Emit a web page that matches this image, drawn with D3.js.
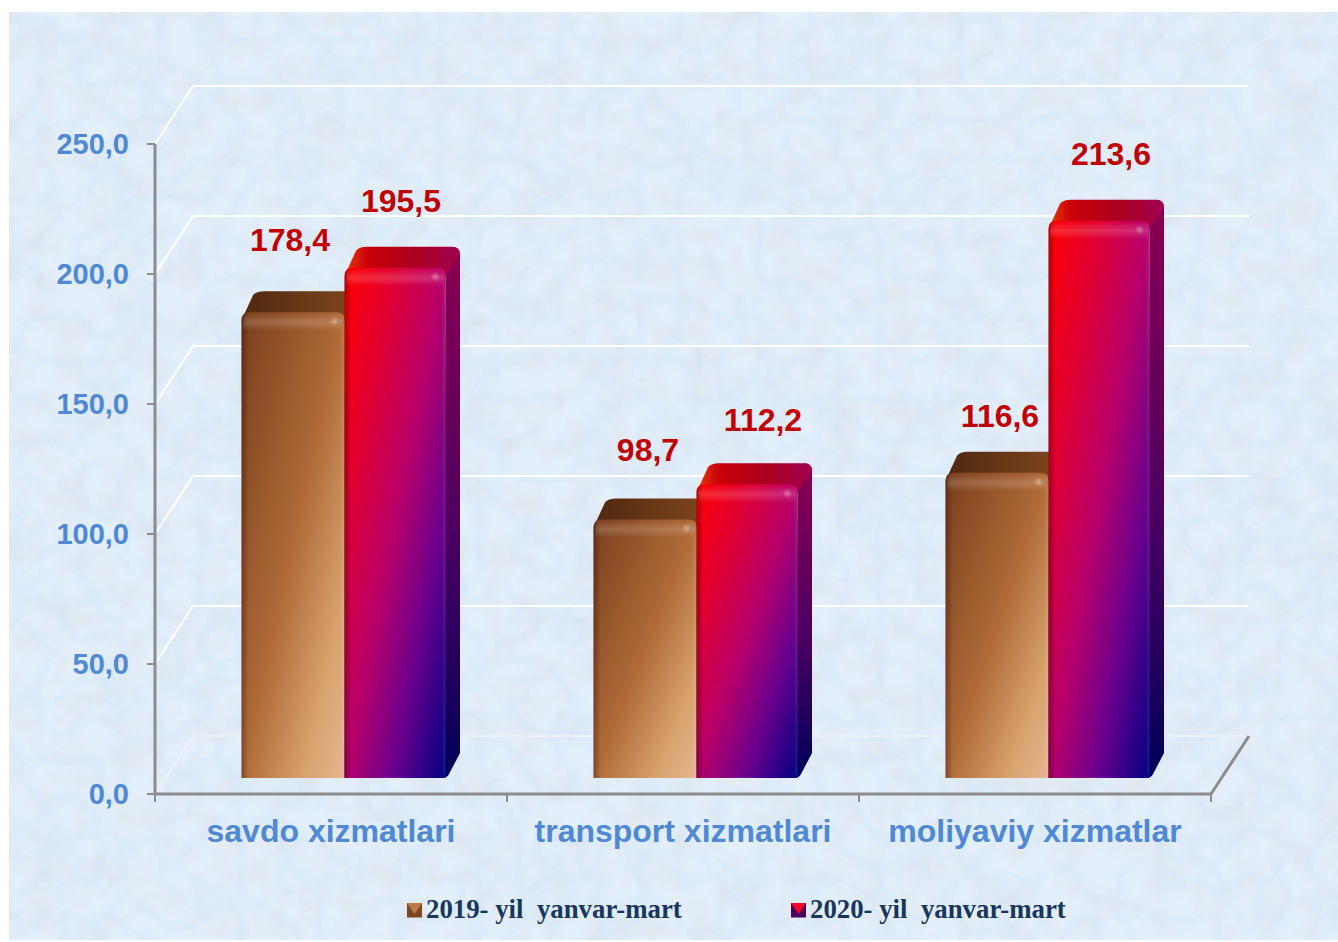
<!DOCTYPE html>
<html><head><meta charset="utf-8">
<script src="https://cdn.jsdelivr.net/npm/d3@7"></script>
<style>html,body{margin:0;padding:0;background:#fff}svg{display:block}</style>
</head><body><svg id="c" width="1338" height="942"></svg>
<script>
const categories=["savdo xizmatlari","transport xizmatlari","moliyaviy xizmatlar"];
const series2019=[178.4,98.7,116.6];
const series2020=[195.5,112.2,213.6];
const seriesNames=["2019- yil  yanvar-mart","2020- yil  yanvar-mart"];
const labels2019=["178,4","98,7","116,6"];
const labels2020=["195,5","112,2","213,6"];
const yTicks=[0,50,100,150,200,250];

const svg=d3.select("#c"),defs=svg.append("defs");
const x=d3.scaleBand().domain(categories).range([155,1211]);
const y=d3.scaleLinear().domain([0,250]).range([794,144]);
const wall={dx:38,dy:-58};
const bar={x0:86.5,w:[103,101],base:-16,topShift:-2,dx:14.5,dy:-21,r:8};
const labelDx=[[135,141,141],[246,256,252]];
const labelLift=[[-61,-58,-46],[-56,-53,-56]];
const BLUE="#4f89d4";

// textured backdrop
const panel={x:9,y:12,width:1329,height:928};
const flt=defs.append("filter").attr("id","tex").attr("x",0).attr("y",0).attr("width","100%").attr("height","100%");
flt.append("feTurbulence").attr("type","fractalNoise").attr("baseFrequency","0.035").attr("numOctaves",5).attr("seed",11);
flt.append("feColorMatrix").attr("type","matrix").attr("values","0 0 0 0 0.70  0 0 0 0 0.76  0 0 0 0 0.84  2.4 0 0 0 -0.95");
const flt2=defs.append("filter").attr("id","tex2").attr("x",0).attr("y",0).attr("width","100%").attr("height","100%");
flt2.append("feTurbulence").attr("type","turbulence").attr("baseFrequency","0.025").attr("numOctaves",4).attr("seed",4);
flt2.append("feColorMatrix").attr("type","matrix").attr("values","0 0 0 0 1  0 0 0 0 1  0 0 0 0 1  0 3.2 0 0 -0.28");
const backdrop=(f,o)=>svg.append("rect").attr("x",panel.x).attr("y",panel.y).attr("width",panel.width).attr("height",panel.height).attr("fill",f).attr("opacity",o);
backdrop("#dcebfa",1);
backdrop("#fff",.7).attr("filter","url(#tex)");
backdrop("#fff",.2).attr("filter","url(#tex2)");

// wall gridlines
const grid=svg.append("g").attr("fill","none").attr("stroke","#fff").attr("stroke-width",2);
yTicks.forEach(t=>{
  const yy=y(t);
  grid.append("path").attr("d",d3.line()([[155,yy],[155+wall.dx,yy+wall.dy],[1211+wall.dx,yy+wall.dy]]))
   .attr("stroke",t===0?"#eef2f6":"#fff");
});
// axes
const axis=svg.append("g").attr("fill","none").attr("stroke","#8c8c8c").attr("stroke-width",3);
axis.append("path").attr("d",d3.line()([[155,y(250)],[155,y(0)],[1211,y(0)],[1211+wall.dx,y(0)+wall.dy]]));
yTicks.forEach(t=>axis.append("line").attr("x1",147).attr("x2",155).attr("y1",y(t)).attr("y2",y(t)).attr("stroke-width",2));
[...categories.map(c=>x(c)),1211].forEach(v=>axis.append("line").attr("x1",v).attr("x2",v).attr("y1",794).attr("y2",802).attr("stroke-width",2));

// tick labels
svg.append("g").selectAll("text").data(yTicks).join("text")
 .attr("x",129).attr("y",d=>y(d)+10).attr("text-anchor","end")
 .attr("font-family","Liberation Sans").attr("font-weight","bold").attr("font-size",29)
 .attr("fill",BLUE).text(d=>d3.format(".1f")(d).replace(".",","));
svg.append("g").selectAll("text").data(categories).join("text")
 .attr("x",d=>x(d)+x.bandwidth()/2).attr("y",842).attr("text-anchor","middle")
 .attr("font-family","Liberation Sans").attr("font-weight","bold").attr("font-size",32)
 .attr("fill",BLUE).text(d=>d);

function grad(id,stops,attrs){
  const g=defs.append("linearGradient").attr("id",id);
  Object.entries(attrs).forEach(([k,v])=>g.attr(k,v));
  stops.forEach(([o,c,a])=>g.append("stop").attr("offset",o).attr("stop-color",c).attr("stop-opacity",a===undefined?1:a));
}
const H={x1:0,y1:0,x2:1,y2:0},V={x1:0,y1:0,x2:0,y2:1},D={x1:0,y1:0,x2:1,y2:1};
grad("bFront",[[0,"#7a3e1c"],[.5,"#b06a38"],[.8,"#d8a26c"],[1,"#e6b594"]],D);
grad("bTop",[[0,"#4e2810"],[1,"#80471f"]],H);
grad("rFront",[[0,"#ff0000"],[.25,"#e00030"],[.5,"#b8006a"],[.75,"#65008e"],[1,"#000080"]],D);
grad("rTop",[[0,"#e83a08"],[.2,"#c80008"],[.6,"#ac0020"],[1,"#a00050"]],H);
grad("rSide",[[0,"#8a0050"],[.55,"#4a0060"],[1,"#000058"]],V);
grad("edgeL",[[0,"#000",.3],[.07,"#000",0],[.96,"#fff",0],[1,"#fff",.1]],H);
grad("edgeT",[[0,"#fff",0],[.5,"#fff",.17],[1,"#fff",0]],V);
const dot=defs.append("radialGradient").attr("id","dot");
dot.append("stop").attr("offset",0).attr("stop-color","#fff").attr("stop-opacity",.35);
dot.append("stop").attr("offset",1).attr("stop-color","#fff").attr("stop-opacity",0);

function drawBar(g,cat,val,i,k,ids){
  const x0=x(cat)+bar.x0+(i?bar.w[0]:0);
  const w=bar.w[i];
  const x1=x0+w, yb=y(0)+bar.base, yt=y(val)+bar.base+bar.topShift;
  const r=bar.r,dx=bar.dx,dy=bar.dy;
  // side face
  g.append("path").attr("d",`M${x1-2},${yb}Q${x1+1},${yb} ${x1+3},${yb-3}L${x1+dx},${yb+dy-4}V${yt+dy+r}Q${x1+dx},${yt+dy} ${x1+dx-r},${yt+dy}L${x1},${yt}Z`).attr("fill",ids.side);
  // top face
  g.append("path").attr("d",`M${x0},${yt+r}L${x0+dx-3},${yt+dy+4}Q${x0+dx},${yt+dy} ${x0+dx+r},${yt+dy}H${x1+dx-r}Q${x1+dx},${yt+dy} ${x1+dx},${yt+dy+r}L${x1},${yt+r}Z`).attr("fill",ids.top);
  // front face
  const d=`M${x0},${yb}V${yt+r}Q${x0},${yt} ${x0+r},${yt}H${x1-r}Q${x1},${yt} ${x1},${yt+r}V${yb}Z`;
  g.append("path").attr("d",d).attr("fill",ids.front);
  g.append("path").attr("d",d).attr("fill","url(#edgeL)");
  g.append("rect").attr("x",x0+2).attr("y",yt+1).attr("width",w-4).attr("height",18).attr("fill","url(#edgeT)");
  g.append("circle").attr("cx",x1-10).attr("cy",yt+9).attr("r",5).attr("fill","url(#dot)");
  g.append("text").attr("x",x(cat)+labelDx[i][k]).attr("y",yt+labelLift[i][k]).attr("text-anchor","middle")
   .attr("font-family","Liberation Sans").attr("font-weight","bold").attr("font-size",32)
   .attr("fill","#c00000").text((i?labels2020:labels2019)[k]);
}
const g=svg.append("g");
categories.forEach((c,k)=>{
  drawBar(g,c,series2019[k],0,k,{front:"url(#bFront)",top:"url(#bTop)",side:"#7a431e"});
  drawBar(g,c,series2020[k],1,k,{front:"url(#rFront)",top:"url(#rTop)",side:"url(#rSide)"});
});

// legend
const legFill=["#7f4620","#4a0060"],legTri=["#bb7a48","#ff0028"];
const legX=[407,791];
const leg=svg.append("g");
seriesNames.forEach((n,i)=>{
  const lx=legX[i];
  leg.append("rect").attr("x",lx).attr("y",903).attr("width",15).attr("height",14.5).attr("fill",legFill[i]);
  leg.append("path").attr("d",`M${lx},903H${lx+15}L${lx+7.5},914Z`).attr("fill",legTri[i]);
  leg.append("text").attr("x",lx+19).attr("y",918).style("white-space","pre")
   .attr("font-family","Liberation Serif").attr("font-weight","bold").attr("font-size",26.8).attr("fill","#17375e").text(n);
});
</script></body></html>
